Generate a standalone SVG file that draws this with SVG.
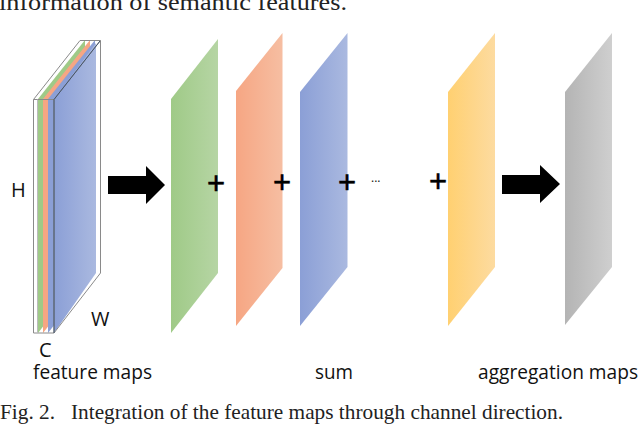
<svg xmlns="http://www.w3.org/2000/svg" width="640" height="427" viewBox="0 0 640 427">
<style>
.s{font-family:"Liberation Serif","Times New Roman",serif;fill:#222}
.l{font-family:"Open Sans","Noto Sans",sans-serif;fill:#111;font-size:20px}
.p{font-family:"Liberation Sans",Arial,sans-serif;fill:#000;stroke:#000;stroke-width:.5;font-size:31px;text-anchor:middle}
.o{fill:none;stroke:#8a8a8a;stroke-width:1}
</style>
<defs>
<linearGradient id="g"><stop offset="0" stop-color="#9fca87"/><stop offset="1" stop-color="#b6d5a4"/></linearGradient>
<linearGradient id="r"><stop offset="0" stop-color="#f6a683"/><stop offset="1" stop-color="#f6bea2"/></linearGradient>
<linearGradient id="b"><stop offset="0" stop-color="#8b9fd6"/><stop offset="1" stop-color="#aab9e0"/></linearGradient>
<linearGradient id="y"><stop offset="0" stop-color="#ffd071"/><stop offset="1" stop-color="#fddba0"/></linearGradient>
<linearGradient id="k"><stop offset="0" stop-color="#b4b4b4"/><stop offset="1" stop-color="#cfcfcf"/></linearGradient>
<filter id="sh" x="-10%" y="-10%" width="120%" height="120%"><feGaussianBlur stdDeviation="0.7"/></filter>
</defs>
<text class="s" x="-1" y="10" font-size="23" textLength="348" lengthAdjust="spacingAndGlyphs">information of semantic features.</text>
<g id="stack">
<polygon points="38,99 85,40 85,273 38,333" fill="#9fca87"/>
<polygon points="43,99 90,40 90,273 43,333" fill="#f6a683"/>
<polygon points="48,99 95,40 95,273 48,333" fill="#8b9fd6"/>
<polygon points="54,99 96,43 96,273 54,333" fill="url(#b)"/>
<path class="o" d="M33.500,99.500H54V333H33.500ZM33.500,99.500L80,40.500H100.500L54,99.500M100.500,40.500V273L54,333"/>
<path d="M54,99.500V333M54,99.500L100,41" fill="none" stroke="#44546a" stroke-width="1"/>
<path d="M37.500,99.500V333" fill="none" stroke="#bbb" stroke-width="1"/>
<text class="l" x="11" y="197">H</text>
<text class="l" x="91" y="326">W</text>
<text class="l" x="39" y="357">C</text>
<text class="l" x="33" y="379" textLength="119" lengthAdjust="spacingAndGlyphs">feature maps</text>
</g>
<g id="connectors">
<path d="M108,176H146V166L165,185L146,204V194H108Z" fill="#000" filter="url(#sh)"/>
<path d="M502,175H540V165L560,184L540,203V194H502Z" fill="#000" filter="url(#sh)"/>
</g>
<g id="green"><polygon points="171,99 218,39 218,273 171,333" fill="url(#g)"/></g>
<g id="orange"><polygon points="236,91 282.500,33 282.500,268 236,326" fill="url(#r)"/></g>
<g id="blue"><polygon points="300,92 347.500,33 347.500,267 300,326" fill="url(#b)"/></g>
<g id="yellow"><polygon points="448,92 495,33 495,267 448,326" fill="url(#y)"/></g>
<g id="gray"><polygon points="565,92 612,33 612,267 565,325" fill="url(#k)"/></g>
<g id="ops">
<text class="p" x="216" y="194">+</text>
<text class="p" x="282" y="193">+</text>
<text class="p" x="347" y="193">+</text>
<text class="p" x="438" y="192">+</text>
<text class="l" x="371" y="182" style="font-size:12px">...</text>
</g>
<text class="l" x="315" y="379" textLength="38" lengthAdjust="spacingAndGlyphs">sum</text>
<text class="l" x="478" y="379" textLength="160" lengthAdjust="spacingAndGlyphs">aggregation maps</text>
<text class="s" x="0" y="419" font-size="21" textLength="563" lengthAdjust="spacingAndGlyphs" xml:space="preserve">Fig. 2.   Integration of the feature maps through channel direction.</text>
</svg>
